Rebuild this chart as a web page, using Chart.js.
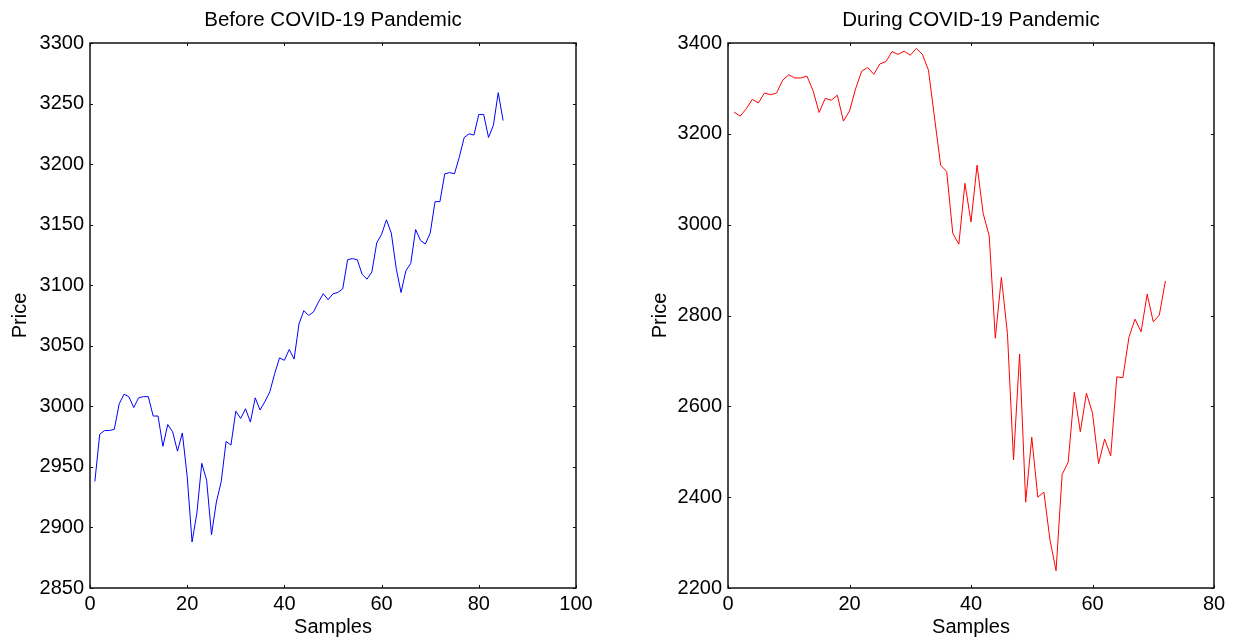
<!DOCTYPE html>
<html>
<head>
<meta charset="utf-8">
<script src="https://cdn.jsdelivr.net/npm/chart.js@4/dist/chart.umd.min.js"></script>
<style>
  html, body { margin: 0; padding: 0; background: #fff; }
  .wrap { position: absolute; top: 0; height: 637px; }
  #w1 { left: 0; width: 616px; }
  #w2 { left: 616px; width: 617px; }
</style>
</head>
<body>
<div class="wrap" id="w1"><canvas id="before"></canvas></div>
<div class="wrap" id="w2"><canvas id="during"></canvas></div>
<script>
// ===== DATA =====
const beforePrices = [
  2938, 2977, 2980, 2980, 2981, 3002, 3010, 3008, 2999, 3007,
  3008, 3008, 2992, 2992, 2967, 2985, 2979, 2963, 2978, 2942,
  2888, 2912, 2953, 2939, 2894, 2921, 2938, 2971, 2968, 2996,
  2990, 2998, 2987, 3007, 2997, 3004, 3012, 3027, 3040, 3038,
  3047, 3039, 3068, 3079, 3075, 3078, 3086, 3093, 3088, 3093,
  3094, 3097, 3121, 3122, 3121, 3109, 3105, 3111, 3135, 3142,
  3154, 3143, 3114, 3094, 3112, 3118, 3146, 3137, 3134, 3143,
  3169, 3169, 3192, 3193, 3192, 3206, 3222, 3225, 3224, 3241,
  3241, 3222, 3232, 3259, 3236
];
const duringPrices = [
  3248, 3239, 3255, 3276, 3268, 3290, 3286, 3290, 3318, 3330,
  3323, 3323, 3327, 3295, 3247, 3278, 3274, 3285, 3228, 3250,
  3299, 3338, 3346, 3331, 3354, 3359, 3381, 3375, 3382, 3373,
  3388, 3375, 3340, 3235, 3131, 3117, 2981, 2957, 3091, 3006,
  3131, 3025, 2975, 2750, 2884, 2760, 2482, 2715, 2389, 2532,
  2400, 2411, 2306, 2238, 2450, 2477, 2631, 2544, 2629, 2585,
  2474, 2528, 2491, 2665, 2663, 2752, 2792, 2764, 2847, 2786,
  2801, 2876
];
const beforeXTicks = [0, 100, 20];   // min, max, step
const beforeYTicks = [2850, 3300, 50];
const duringXTicks = [0, 80, 20];
const duringYTicks = [2200, 3400, 200];

const FONT = "'Liberation Sans', Arial, sans-serif";

// ===== CAIXA + TICKS PARA DENTRO =====
const boxTicks = {
  id: 'boxTicks',
  afterDraw(chart) {
    const { ctx, chartArea: a, scales: { x, y } } = chart;
    const L = 3;
    ctx.save();
    ctx.strokeStyle = '#111';
    ctx.lineWidth = 1.5;
    ctx.strokeRect(a.left, a.top, a.right - a.left, a.bottom - a.top);
    ctx.lineWidth = 1;
    ctx.beginPath();
    x.ticks.forEach(t => {
      const px = Math.round(x.getPixelForValue(t.value)) + 0.5;
      ctx.moveTo(px, a.bottom); ctx.lineTo(px, a.bottom - L);
      ctx.moveTo(px, a.top); ctx.lineTo(px, a.top + L);
    });
    y.ticks.forEach(t => {
      const py = Math.round(y.getPixelForValue(t.value)) + 0.5;
      ctx.moveTo(a.left, py); ctx.lineTo(a.left + L, py);
      ctx.moveTo(a.right, py); ctx.lineTo(a.right - L, py);
    });
    ctx.stroke();
    ctx.restore();
  }
};

function makeChart(id, titulo, precos, cor, xt, yt, yWidth, yTitlePad, padRight) {
  new Chart(document.getElementById(id).getContext('2d'), {
    type: 'line',
    data: {
      datasets: [{
        data: precos.map((v, i) => ({ x: i + 1, y: v })),
        borderColor: cor,
        borderWidth: 1,
        pointRadius: 0,
        tension: 0,
        fill: false
      }]
    },
    options: {
      responsive: true,
      maintainAspectRatio: false,
      animation: false,
      layout: { padding: { left: 0, right: padRight, top: 0, bottom: 0 } },
      plugins: {
        legend: { display: false },
        tooltip: { enabled: false },
        title: {
          display: true, text: titulo, color: '#000', fullSize: false,
          font: { family: FONT, size: 20.5, weight: 'normal', lineHeight: 1.2 },
          padding: { top: 8, bottom: 10.4 }
        }
      },
      scales: {
        x: {
          type: 'linear', min: xt[0], max: xt[1],
          ticks: { stepSize: xt[2], color: '#000', padding: 4, maxRotation: 0,
            font: { family: FONT, size: 20 }, callback: v => String(v) },
          grid: { display: false, drawTicks: false },
          border: { display: false },
          title: { display: true, text: 'Samples', color: '#000',
            font: { family: FONT, size: 20, lineHeight: 1 }, padding: 0 },
          afterFit: s => { s.height = 49; }
        },
        y: {
          type: 'linear', min: yt[0], max: yt[1],
          ticks: { stepSize: yt[2], color: '#000', padding: 6,
            font: { family: FONT, size: 20 }, callback: v => String(v) },
          grid: { display: false, drawTicks: false },
          border: { display: false },
          title: { display: true, text: 'Price', color: '#000',
            font: { family: FONT, size: 20, lineHeight: 1 }, padding: { top: yTitlePad, bottom: 0 } },
          afterFit: s => { s.width = yWidth; }
        }
      }
    },
    plugins: [boxTicks]
  });
}

makeChart('before', 'Before COVID-19 Pandemic', beforePrices, '#0000ff',
  beforeXTicks, beforeYTicks, 90, 10, 40);
makeChart('during', 'During COVID-19 Pandemic', duringPrices, '#ff0000',
  duringXTicks, duringYTicks, 112, 34, 19);
</script>
</body>
</html>
